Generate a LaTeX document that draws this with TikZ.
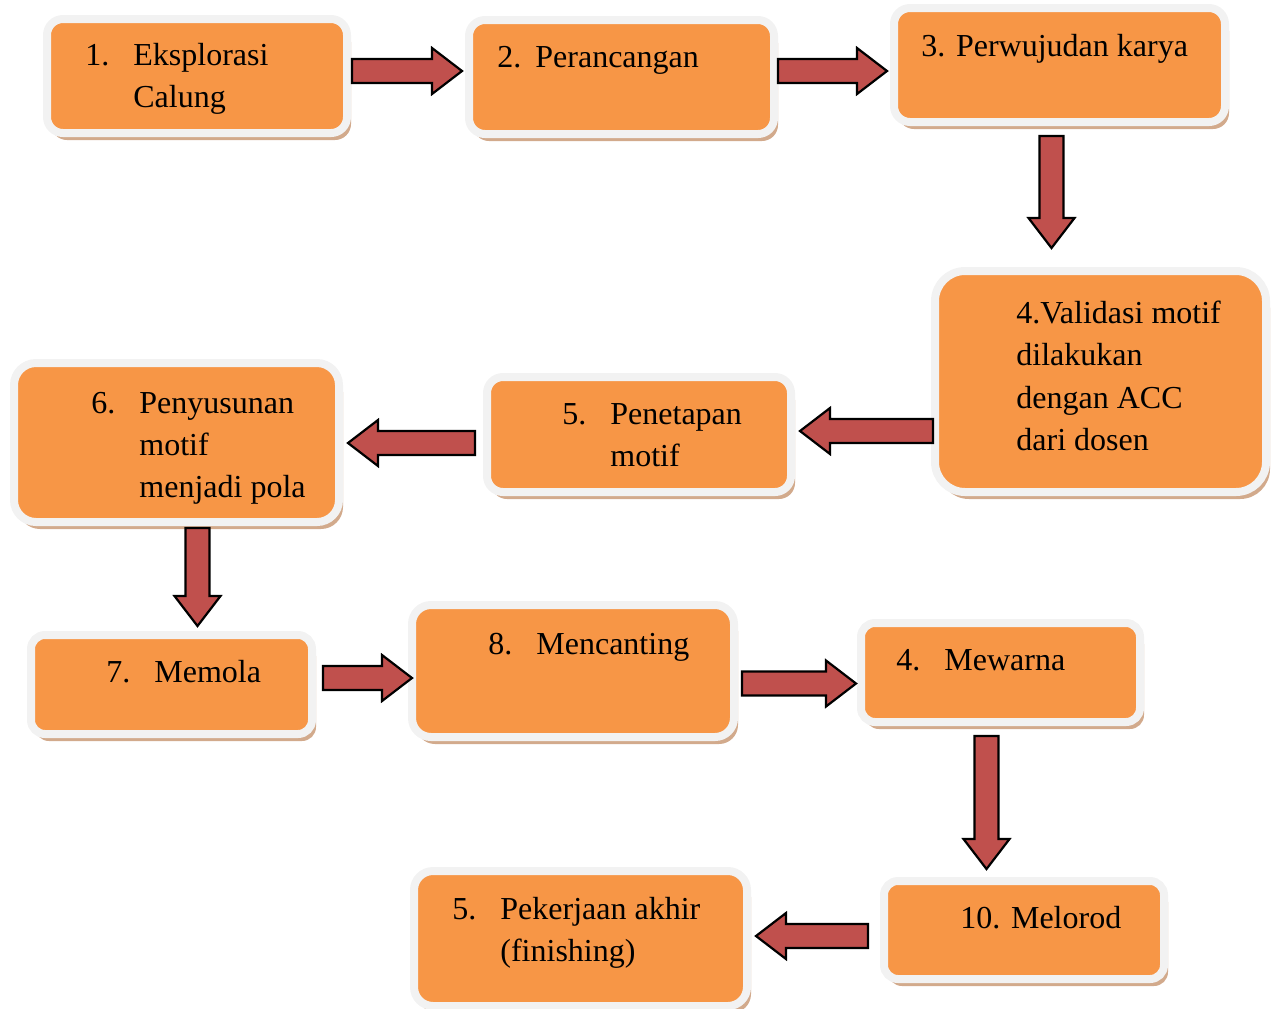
\documentclass[tikz,border=0pt]{standalone}
\usepackage{fontspec}
\setmainfont{Liberation Serif}
\usetikzlibrary{calc,shadows}

\definecolor{oranye}{HTML}{F79646}
\definecolor{abu}{HTML}{F2F2F2}
\definecolor{bayang}{HTML}{D2AA8C}
\definecolor{merah}{HTML}{C0504D}

\newcommand{\nomor}[2][24pt]{\makebox[#1][l]{#2}}
\newcommand{\geser}{\hspace*{24pt}}
\newcommand{\baris}[1]{\begin{tabular}[t]{@{}l@{}}#1\end{tabular}}
% block arrow from #1 to #2
\newcommand{\panah}[2]{%
  \coordinate (pA) at (#1);
  \coordinate (pB) at (#2);
  \coordinate (pC) at ($(pB)!15pt!(pA)$);
  \draw[panah] ($(pA)!6pt!90:(pB)$) -- ($(pC)!6pt!90:(pB)$) -- ($(pC)!11.5pt!90:(pB)$) -- (pB)
    -- ($(pC)!11.5pt!-90:(pB)$) -- ($(pC)!6pt!-90:(pB)$) -- ($(pA)!6pt!-90:(pB)$) -- cycle;}

\begin{document}
\begin{tikzpicture}[x=0.5pt,y=-0.5pt,
  kotak/.style={rectangle,rounded corners=8pt,fill=oranye,draw=abu,line width=4pt,inner sep=0pt,
    drop shadow={shadow xshift=2pt,shadow yshift=-3.5pt,fill=bayang,opacity=1}},
  teks/.style={anchor=base west,inner sep=0pt,font=\fontsize{16}{21.2}\selectfont},
  panah/.style={fill=merah,draw=black,line width=1.1pt,line join=miter}]
\useasboundingbox (0,0) rectangle (1279,1008);

\node[kotak,minimum width=150pt,minimum height=57pt]     (k1)  at (197,76)      {};
\node[kotak,minimum width=152.5pt,minimum height=57pt]   (k2)  at (621.5,77)    {};
\node[kotak,minimum width=165.5pt,minimum height=57pt]   (k3)  at (1059.5,65)   {};
\node[kotak,rounded corners=15pt,minimum width=165.5pt,minimum height=110.5pt] (k4) at (1100.5,381.5) {};
\node[kotak,minimum width=152pt,minimum height=57.5pt]   (k5)  at (639,434.5)   {};
\node[kotak,rounded corners=11pt,minimum width=162.5pt,minimum height=79.5pt] (k6)  at (176.5,442.5) {};
\node[kotak,rounded corners=7pt,minimum width=140.5pt,minimum height=49.5pt] (k7)  at (171.5,684.5) {};
\node[kotak,rounded corners=9.5pt,minimum width=161pt,minimum height=66pt]   (k8)  at (573,671)     {};
\node[kotak,rounded corners=7pt,minimum width=139.5pt,minimum height=49.5pt] (k9)  at (1000.5,672.5) {};
\node[kotak,rounded corners=7pt,minimum width=140pt,minimum height=49pt]     (k10) at (1024,930)    {};
\node[kotak,rounded corners=9.5pt,minimum width=166.5pt,minimum height=67.5pt] (k11) at (580.5,938.5) {};

\node[teks] (t1)  at (85,65.5)   {\baris{\nomor{1.}Eksplorasi\\\geser Calung}};
\node[teks] (t2)  at (497,67)    {\baris{\nomor[19pt]{2.}Perancangan}};
\node[teks] (t3)  at (921,56)    {\baris{3. Perwujudan karya}};
\node[teks] (t4)  at (1016,323.5) {\baris{4.Validasi motif\\dilakukan\\dengan ACC\\dari dosen}};
\node[teks] (t5)  at (562,424)   {\baris{\nomor{5.}Penetapan\\\geser motif}};
\node[teks] (t6)  at (91,413)    {\baris{\nomor{6.}Penyusunan\\\geser motif\\\geser menjadi pola}};
\node[teks] (t7)  at (106,682)   {\baris{\nomor{7.}Memola}};
\node[teks] (t8)  at (488,654)   {\baris{\nomor{8.}Mencanting}};
\node[teks] (t9)  at (896,670)   {\baris{\nomor{4.}Mewarna}};
\node[teks] (t10) at (960,928)   {\baris{10. Melorod}};
\node[teks] (t11) at (452,919)   {\baris{\nomor{5.}Pekerjaan akhir\\\geser (finishing)}};

% arrows
\panah{[shift={(1,-5)}]k1.east}{[shift={(-3,-6)}]k2.west}
\panah{[shift={(0,-6)}]k2.east}{[shift={(-3,6)}]k3.west}
\panah{[shift={(-8,10)}]k3.south}{[shift={(-49,-19)}]k4.north}
\panah{[shift={(2,49.5)}]k4.west}{[shift={(5,-3.5)}]k5.east}
\panah{[shift={(-8,8.5)}]k5.west}{[shift={(5,0.5)}]k6.east}
\panah{[shift={(21,2)}]k6.south}{[shift={(26,-5)}]k7.north}
\panah{[shift={(7,-6.5)}]k7.east}{[shift={(4,7)}]k8.west}
\panah{[shift={(4,12.5)}]k8.east}{[shift={(-1,11)}]k9.west}
\panah{[shift={(-14,10)}]k9.south}{[shift={(-37.5,-8)}]k10.north}
\panah{[shift={(-12,6)}]k10.west}{[shift={(5,-2.5)}]k11.east}

\end{tikzpicture}
\end{document}
